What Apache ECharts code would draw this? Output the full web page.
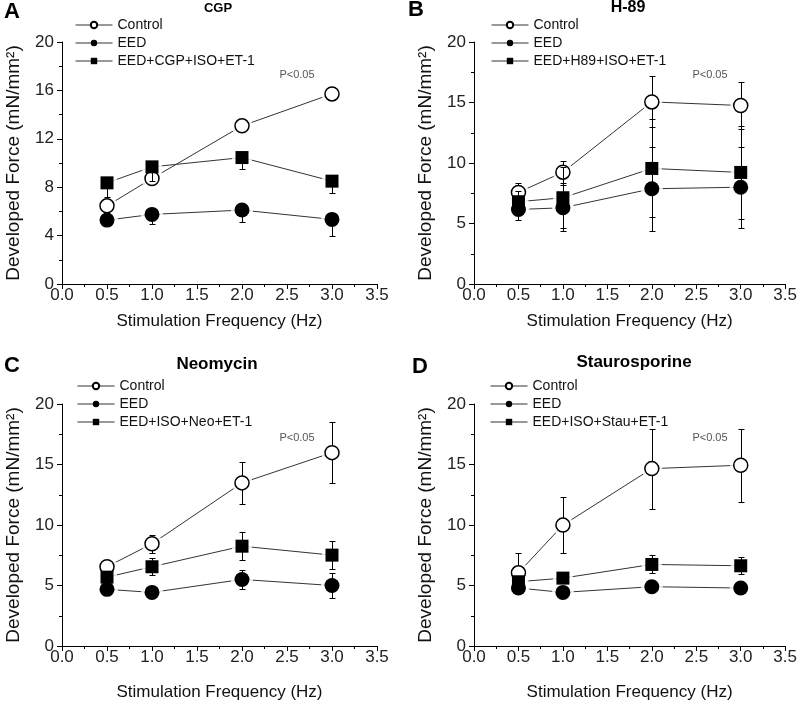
<!DOCTYPE html>
<html><head><meta charset="utf-8">
<script src="https://cdn.jsdelivr.net/npm/echarts@6/dist/echarts.min.js"></script>
<style>html,body{margin:0;padding:0;background:#fff}#c{width:800px;height:702px}</style>
</head><body><div id="c"></div>
<script>
// ---------- data ----------
const freq = [0.5, 1.0, 2.0, 3.0];
const panelLetters = ['A', 'B', 'C', 'D'];
const panelTitles = ['CGP', 'H-89', 'Neomycin', 'Staurosporine'];
const controlName = 'Control';
const eedName = 'EED';
const treatNames = ['EED+CGP+ISO+ET-1', 'EED+H89+ISO+ET-1', 'EED+ISO+Neo+ET-1', 'EED+ISO+Stau+ET-1'];
const yMaxes = [20, 20, 20, 20];
const yIntervals = [4, 5, 5, 5];
const pText = 'P<0.05';
const xName = 'Stimulation Frequency (Hz)';
const yName = 'Developed Force (mN/mm\u00B2)';

// Panel A (CGP)
const ctlA = [6.46, 8.72, 13.07, 15.71];
const ctlA_up = [0, 0, 0, 0.55];
const ctlA_dn = [0, 0, 0, 0];
const eedA = [5.28, 5.75, 6.11, 5.34];
const eedA_up = [0, 0, 0, 0];
const eedA_dn = [0, 0.79, 0.96, 1.34];
const trtA = [8.36, 9.68, 10.45, 8.5];
const trtA_up = [0, 0, 0, 0];
const trtA_dn = [1.19, 1.18, 0.95, 1.0];

// Panel B (H-89)
const ctlB = [7.57, 9.24, 15.05, 14.75];
const ctlB_up = [0.8, 0.9, 2.1, 1.95];
const ctlB_dn = [0.8, 0.9, 2.1, 1.95];
const eedB = [6.16, 6.3, 7.87, 8.0];
const eedB_up = [0.88, 1.9, 3.45, 3.35];
const eedB_dn = [0.88, 1.9, 3.45, 3.35];
const trtB = [6.8, 7.13, 9.55, 9.22];
const trtB_up = [0.85, 2.5, 4.05, 3.85];
const trtB_dn = [0.85, 2.5, 4.05, 3.85];

// Panel C (Neomycin)
const ctlC = [6.55, 8.45, 13.48, 15.98];
const ctlC_up = [0.3, 0.75, 1.75, 2.55];
const ctlC_dn = [0.3, 0.75, 1.75, 2.55];
const eedC = [4.68, 4.43, 5.5, 5.0];
const eedC_up = [0.3, 0.3, 0.8, 1.04];
const eedC_dn = [0.3, 0.3, 0.8, 1.04];
const trtC = [5.69, 6.55, 8.25, 7.51];
const trtC_up = [0.3, 0.7, 1.17, 1.17];
const trtC_dn = [0.3, 0.7, 1.17, 1.17];

// Panel D (Staurosporine)
const ctlD = [6.05, 9.99, 14.66, 14.94];
const ctlD_up = [1.6, 2.3, 3.3, 3.0];
const ctlD_dn = [1.6, 2.3, 3.3, 3.0];
const eedD = [4.79, 4.43, 4.9, 4.79];
const eedD_up = [0.2, 0.2, 0.2, 0.2];
const eedD_dn = [0.2, 0.2, 0.2, 0.2];
const trtD = [5.31, 5.61, 6.74, 6.63];
const trtD_up = [0.3, 0.3, 0.74, 0.72];
const trtD_dn = [0.3, 0.3, 0.74, 0.72];

const panels = [
  {ctl: [ctlA, ctlA_up, ctlA_dn], eed: [eedA, eedA_up, eedA_dn], trt: [trtA, trtA_up, trtA_dn]},
  {ctl: [ctlB, ctlB_up, ctlB_dn], eed: [eedB, eedB_up, eedB_dn], trt: [trtB, trtB_up, trtB_dn]},
  {ctl: [ctlC, ctlC_up, ctlC_dn], eed: [eedC, eedC_up, eedC_dn], trt: [trtC, trtC_up, trtC_dn]},
  {ctl: [ctlD, ctlD_up, ctlD_dn], eed: [eedD, eedD_up, eedD_dn], trt: [trtD, trtD_up, trtD_dn]}
];

// ---------- layout ----------
const FONT = 'Liberation Sans, Arial, sans-serif';
const gridPos = [
  {left: 62, top: 42, width: 315, height: 242},
  {left: 474, top: 42, width: 314, height: 242},
  {left: 62, top: 404, width: 315, height: 243},
  {left: 474, top: 404, width: 314, height: 243}
];
const xNameGap = [29, 29, 38, 38];
const legendPos = [
  {left: 75, top: 18}, {left: 491, top: 18}, {left: 77, top: 379}, {left: 490, top: 379}
];
const letterPos = [[12, 12], [416, 10], [12, 366], [420, 367]];
const titlePos = [[218, 8], [628, 8], [217, 364], [634, 362]];
const titleSize = [13, 16, 17, 17];
const pPos = [[297, 75], [710, 75], [297, 438], [710, 438]];

const groupStyles = {
  ctl: {symbol: 'circle', size: 14, item: {color: '#fff', borderColor: '#000', borderWidth: 1.5}},
  eed: {symbol: 'circle', size: 15, item: {color: '#000'}},
  trt: {symbol: 'rect', size: 13, item: {color: '#000'}}
};

function pairs(vals) { return freq.map((f, i) => [f, vals[i]]); }

function errRender(params, api) {
  const x = api.value(0), v = api.value(1), lo = api.value(2), hi = api.value(3);
  const pv = api.coord([x, v]);
  const hw = 3;
  const st = {stroke: '#000', lineWidth: 1};
  const cx = Math.round(pv[0]) + 0.5;
  const ch = [];
  if (lo < v) {
    const pl = api.coord([x, lo]);
    const yl = Math.round(pl[1]) + 0.5;
    ch.push({type: 'line', shape: {x1: cx, y1: pv[1], x2: cx, y2: yl}, style: st});
    ch.push({type: 'line', shape: {x1: cx - hw, y1: yl, x2: cx + hw, y2: yl}, style: st});
  }
  if (hi > v) {
    const ph = api.coord([x, hi]);
    const yh = Math.round(ph[1]) + 0.5;
    ch.push({type: 'line', shape: {x1: cx, y1: pv[1], x2: cx, y2: yh}, style: st});
    ch.push({type: 'line', shape: {x1: cx - hw, y1: yh, x2: cx + hw, y2: yh}, style: st});
  }
  return {type: 'group', children: ch};
}

const grid = [], xAxis = [], yAxis = [], series = [], legend = [], graphic = [];
panels.forEach((p, i) => {
  grid.push(Object.assign({containLabel: false}, gridPos[i]));
  xAxis.push({
    type: 'value', gridIndex: i, min: 0, max: 3.5, interval: 0.5,
    axisLine: {show: true, onZero: false, lineStyle: {color: '#000', width: 1}},
    axisTick: {show: true, length: 5, lineStyle: {color: '#000'}},
    minorTick: {show: true, splitNumber: 2, length: 3, lineStyle: {color: '#000'}},
    splitLine: {show: false},
    axisLabel: {fontSize: 17, color: '#222', margin: 3, fontFamily: FONT, formatter: v => v.toFixed(1)},
    name: xName, nameLocation: 'middle', nameGap: xNameGap[i],
    nameTextStyle: {fontSize: 17, color: '#111', fontFamily: FONT}
  });
  yAxis.push({
    type: 'value', gridIndex: i, min: 0, max: yMaxes[i], interval: yIntervals[i],
    axisLine: {show: true, onZero: false, lineStyle: {color: '#000', width: 1}},
    axisTick: {show: true, length: 5, lineStyle: {color: '#000'}},
    minorTick: {show: true, splitNumber: 2, length: 3, lineStyle: {color: '#000'}},
    splitLine: {show: false},
    axisLabel: {fontSize: 17, color: '#222', margin: 8, fontFamily: FONT},
    name: yName, nameLocation: 'middle', nameGap: 39,
    nameTextStyle: {fontSize: 19, color: '#111', fontFamily: FONT}
  });
  const groups = ['ctl', 'eed', 'trt'];
  const names = [controlName, eedName, treatNames[i]];
  groups.forEach((g, gi) => {
    const [vals, up, dn] = p[g];
    const gs = groupStyles[g];
    series.push({
      type: 'line', xAxisIndex: i, yAxisIndex: i, data: pairs(vals), symbol: 'none',
      lineStyle: {color: '#333', width: 1}, z: 1, silent: true, emphasis: {disabled: true}
    });
    series.push({
      type: 'scatter', xAxisIndex: i, yAxisIndex: i, data: pairs(vals), symbol: gs.symbol,
      symbolSize: gs.size + 7, itemStyle: {color: '#fff'}, z: 2, silent: true, emphasis: {disabled: true}
    });
    series.push({
      type: 'custom', xAxisIndex: i, yAxisIndex: i, z: 3 + gi * 2, silent: true,
      data: freq.map((f, k) => [f, vals[k], vals[k] - dn[k], vals[k] + up[k]]),
      encode: {x: 0, y: [1, 2, 3]}, renderItem: errRender
    });
    series.push({
      type: 'line', name: names[gi], xAxisIndex: i, yAxisIndex: i, data: pairs(vals),
      symbol: gs.symbol, symbolSize: gs.size, showSymbol: true,
      lineStyle: {opacity: 0}, itemStyle: gs.item, z: 4 + gi * 2, emphasis: {disabled: true}
    });
  });
  legend.push(Object.assign({
    orient: 'vertical', itemWidth: 37, itemHeight: 8, itemGap: 4, padding: 0, selectedMode: false,
    data: names, textStyle: {fontSize: 14, color: '#111', fontFamily: FONT, lineHeight: 14},
    lineStyle: {color: '#333', width: 1, opacity: 1}
  }, legendPos[i]));
  graphic.push({type: 'text', x: letterPos[i][0], y: letterPos[i][1],
    style: {text: panelLetters[i], font: 'bold 22px ' + FONT, fill: '#000', textAlign: 'center', textVerticalAlign: 'middle'}});
  graphic.push({type: 'text', x: titlePos[i][0], y: titlePos[i][1],
    style: {text: panelTitles[i], font: 'bold ' + titleSize[i] + 'px ' + FONT, fill: '#000', textAlign: 'center', textVerticalAlign: 'middle'}});
  graphic.push({type: 'text', x: pPos[i][0], y: pPos[i][1],
    style: {text: pText, font: '11px ' + FONT, fill: '#555', textAlign: 'center', textVerticalAlign: 'middle'}});
});

const chart = echarts.init(document.getElementById('c'), null, {renderer: 'canvas'});
chart.setOption({
  animation: false,
  backgroundColor: '#fff',
  textStyle: {fontFamily: FONT},
  grid, xAxis, yAxis, series, legend, graphic
});
</script></body></html>
